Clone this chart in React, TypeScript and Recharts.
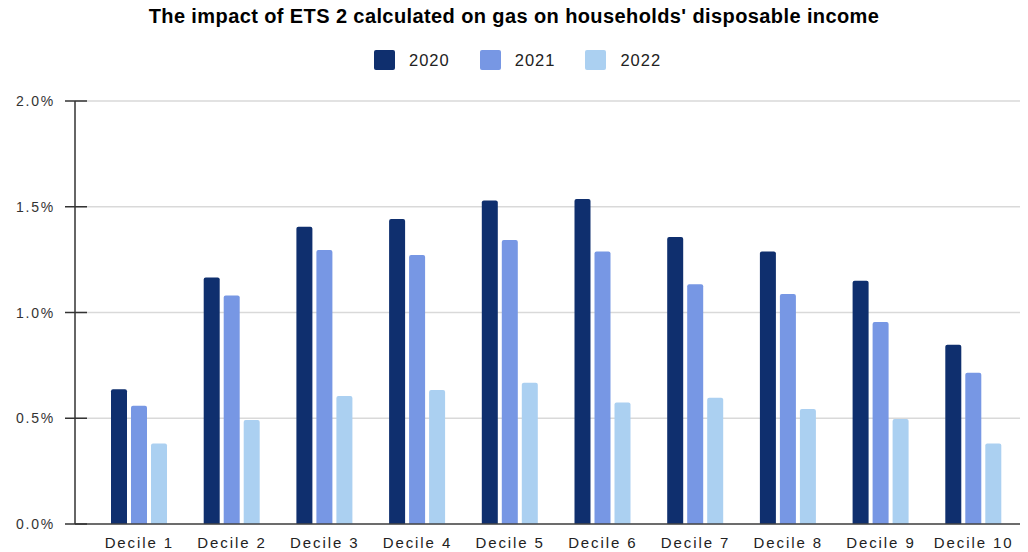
import React from "react";
import { BarChart, Bar, XAxis, YAxis, CartesianGrid } from "recharts";

const categories = ["Decile 1", "Decile 2", "Decile 3", "Decile 4", "Decile 5", "Decile 6", "Decile 7", "Decile 8", "Decile 9", "Decile 10"];
const values2020 = [0.637, 1.165, 1.406, 1.442, 1.529, 1.537, 1.357, 1.288, 1.15, 0.848];
const values2021 = [0.559, 1.08, 1.296, 1.272, 1.343, 1.289, 1.133, 1.087, 0.955, 0.715];
const values2022 = [0.381, 0.492, 0.605, 0.634, 0.668, 0.575, 0.597, 0.544, 0.496, 0.381];
const yTicks = [0, 0.5, 1.0, 1.5, 2.0];
const seriesNames = ["2020", "2021", "2022"];
const seriesColors = ["#0f2f6e", "#7797e4", "#abd0f1"];
const title = "The impact of ETS 2 calculated on gas on households' disposable income";

const data = categories.map((c, i) => ({
  name: c,
  "2020": values2020[i],
  "2021": values2021[i],
  "2022": values2022[i],
}));

const FONT = "'Liberation Sans', Arial, sans-serif";

const YTick = (props: any) => {
  const { x, y, payload } = props;
  return (
    <g>
      <line x1={x - 10} x2={x + 12} y1={y} y2={y} stroke="#333" strokeWidth={1.5} />
      <text
        x={x - 20}
        y={y}
        textAnchor="end"
        dominantBaseline="central"
        fontFamily={FONT}
        fontSize={14}
        letterSpacing={1.8}
        fill="#333"
      >
        {payload.value.toFixed(1) + "%"}
      </text>
    </g>
  );
};

export default function App() {
  return (
    <div style={{ position: "absolute", left: 0, top: 0, width: 1028, height: 552, background: "#fff" }}>
      <div
        style={{
          position: "absolute",
          top: 5,
          left: 0,
          width: 1028,
          textAlign: "center",
          fontFamily: FONT,
          fontWeight: "bold",
          fontSize: 20,
          letterSpacing: 0.4,
          color: "#000",
          lineHeight: "23px",
        }}
      >
        {title}
      </div>
      <div
        style={{
          position: "absolute",
          top: 50,
          left: 374,
          display: "flex",
          alignItems: "center",
          fontFamily: FONT,
          fontSize: 16.5,
          letterSpacing: 1,
          color: "#222",
        }}
      >
        {seriesNames.map((s, i) => (
          <div key={s} style={{ display: "flex", alignItems: "center", marginRight: 30 }}>
            <div style={{ width: 21, height: 20, borderRadius: 2, background: seriesColors[i], marginRight: 14 }} />
            <span>{s}</span>
          </div>
        ))}
      </div>
      <BarChart
        width={1028}
        height={552}
        data={data}
        margin={{ top: 101, right: 8, bottom: 0, left: 0 }}
        barGap={4}
        barSize={16}
      >
        <CartesianGrid horizontal={true} vertical={false} stroke="#d9d9d9" strokeWidth={1.5} />
        <XAxis
          dataKey="name"
          height={28}
          padding={{ left: 18, right: 0 }}
          axisLine={{ stroke: "#444", strokeWidth: 1.5 }}
          tickLine={false}
          tickSize={0}
          tickMargin={13}
          interval={0}
          tick={{ fontFamily: FONT, fontSize: 15, letterSpacing: 1.9, fill: "#222" } as any}
        />
        <YAxis
          width={75}
          domain={[0, 2]}
          ticks={yTicks}
          axisLine={{ stroke: "#333", strokeWidth: 1.5 }}
          tickLine={false}
          tickSize={0}
          tickMargin={0}
          tick={<YTick />}
        />
        {seriesNames.map((s, i) => (
          <Bar key={s} dataKey={s} fill={seriesColors[i]} radius={[2, 2, 0, 0]} isAnimationActive={false} />
        ))}
      </BarChart>
    </div>
  );
}
